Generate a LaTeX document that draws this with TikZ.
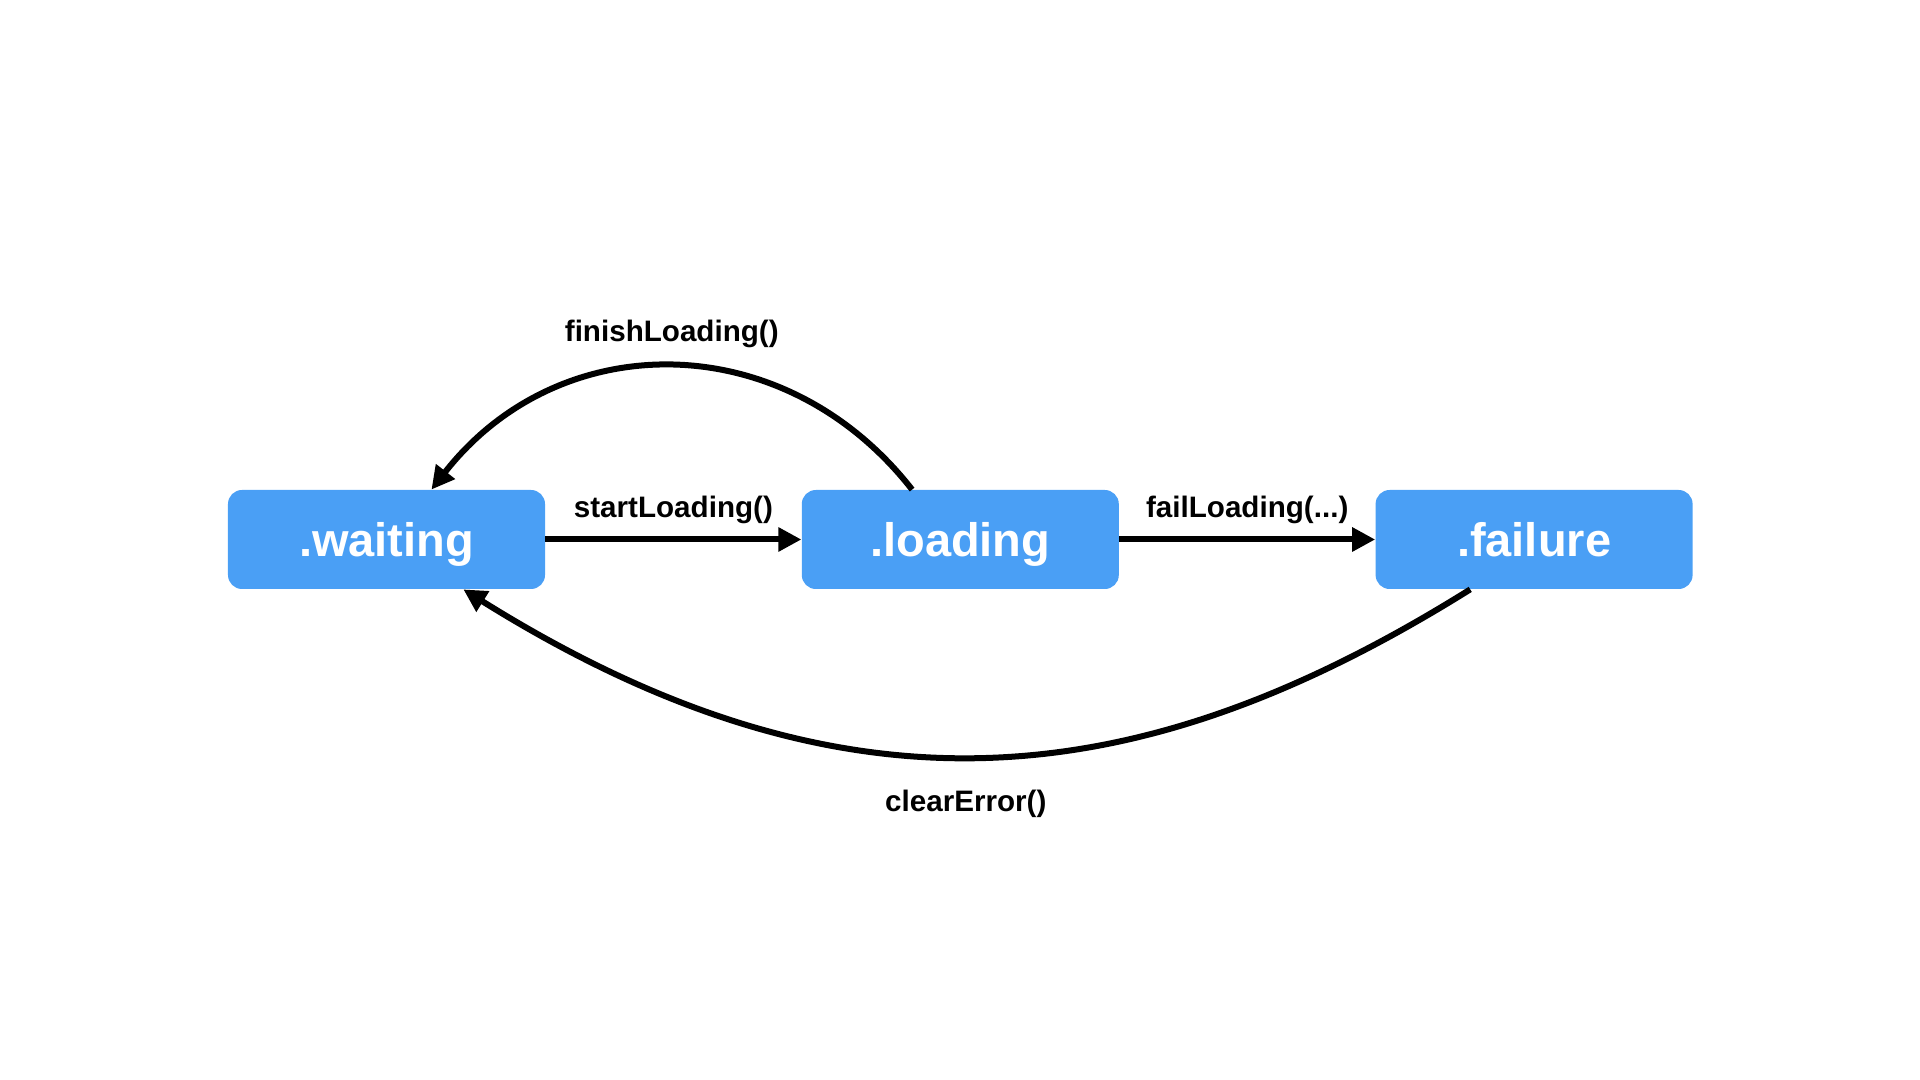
\documentclass[tikz,border=0pt]{standalone}
\usepackage{fontspec}
\setmainfont{Liberation Sans}
\usetikzlibrary{arrows.meta, positioning}

\definecolor{stateblue}{RGB}{74,159,245}

\begin{document}
\begin{tikzpicture}[
  node distance=128pt,
  box/.style={fill=stateblue, rounded corners=7pt, minimum width=158.5pt, minimum height=49.5pt, inner sep=0pt,
    text=white, font=\bfseries\fontsize{23.5}{28}\selectfont, text height=21.5pt, text depth=4.5pt},
  arrow/.style={-{Triangle[length=11.5pt, width=11.5pt]}, line width=3pt},
  lbl/.style={font=\bfseries\fontsize{14.8}{17}\selectfont}
]

\useasboundingbox (-193.25pt,-270.25pt) rectangle (766.75pt,269.75pt);

% States
\node[box] (waiting) {.waiting};
\node[box, right=of waiting] (loading) {.loading};
\node[box, right=of loading] (failure) {.failure};

% Straight transitions
\draw[arrow] (waiting) -- node[lbl, above=3pt] {startLoading()} (loading);
\draw[arrow] (loading) -- node[lbl, above=3pt] {failLoading(...)} (failure);

% Curved transitions
\draw[arrow] (loading.134) to[out=128, in=52, looseness=1.11] node[lbl, above=4.5pt] {finishLoading()} (waiting.48);
\draw[arrow] (failure.218) to[out=212, in=-32, out looseness=0.98, in looseness=1.16] node[lbl, pos=0.524, below=12pt] {clearError()} (waiting.-33);

\end{tikzpicture}
\end{document}
